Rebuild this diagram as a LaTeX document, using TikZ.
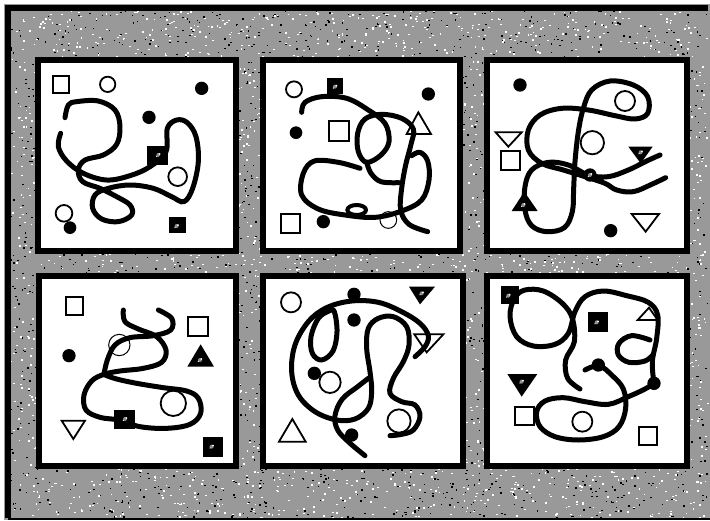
\documentclass[tikz,border=0pt]{standalone}
\newcommand\mySpeck[2]{\fill[black!45] (#1,#2) circle[radius=6];\fill[white] ({#1+4},{#2-3}) circle[radius=3];\fill[white] ({#1-5},{#2+4}) circle[radius=2];}
\begin{document}
\begin{tikzpicture}[x=1pt,y=-1pt,
  curve/.style={line width=5pt, line cap=round, line join=round},
  opn/.style={draw=black, line width=1.8pt, fill=white},
  panelbox/.style={draw=black, line width=6pt, fill=white},
  zoomed/.style={scale=1/3}]
\useasboundingbox (0,0) rectangle (710,520);
\fill[white] (0,0) rectangle (710,520);
\fill[black!40] (4,4) rectangle (710,520);
\pgfmathsetseed{7}
\foreach \i in {1,...,3000}{\pgfmathsetmacro\ax{5+rnd*702}\pgfmathsetmacro\ay{5+rnd*512}\fill[black] (\ax,\ay) rectangle ++(1.6,1.3);}
\foreach \i in {1,...,4000}{\pgfmathsetmacro\ax{5+rnd*702}\pgfmathsetmacro\ay{5+rnd*512}\fill[white] (\ax,\ay) rectangle ++(1.8,1.4);}
\draw[line width=6pt] (708,7.5) -- (8,7.5) -- (8,518);
\draw[line width=2pt] (8,518.5) -- (710,518.5);
% panels
\draw[panelbox] (38,60) rectangle (236,251);
\draw[panelbox] (263,60) rectangle (460,251);
\draw[panelbox] (487,60) rectangle (687,251);
\draw[panelbox] (39,276) rectangle (236,466);
\draw[panelbox] (263,276) rectangle (463,466);
\draw[panelbox] (487,276) rectangle (687,466);
% panel 1
\begin{scope}[shift={(30,55)},zoomed]
\draw[opn] (68,62) rectangle (118,115);
\draw[opn] (233,88) circle[radius=23];
\fill (515,100) circle[radius=20];
\fill (357,187) circle[radius=20];
\fill (352,272) rectangle (415,330); \mySpeck{385}{300}
\draw[opn] (443,365) circle[radius=28];
\draw[opn] (102,475) circle[radius=25];
\fill (120,518) circle[radius=19];
\fill (417,487) rectangle (467,535); \mySpeck{440}{513}
\draw[curve] plot[smooth, tension=0.6] coordinates {(105,188) (115,150) (140,140) (205,138) (255,165) (270,215) (260,268) (220,300) (165,315) (145,345) (158,380) (210,400) (260,425) (300,450) (305,480) (265,500) (215,492) (188,460) (195,420) (235,400) (300,390) (370,400) (425,425) (462,440) (488,400) (505,320) (498,245) (472,203) (440,195) (412,220) (408,290) (360,335) (300,362) (230,375) (160,355) (110,318) (85,275) (92,235)};
\end{scope}
% panel 2
\begin{scope}[shift={(255,55)},zoomed]
\draw[opn] (117,103) circle[radius=24];
\fill (217,68) rectangle (265,118); \mySpeck{240}{95}
\fill (520,117) circle[radius=20];
\fill (123,233) circle[radius=19];
\draw[opn] (222,198) rectangle (282,258);
\draw[opn] (490,172) -- (455,237) -- (528,237) -- cycle;
\draw[opn] (78,478) rectangle (135,535);
\fill (205,500) circle[radius=20];
\draw[opn, line width=1pt] (400,495) circle[radius=25];
\draw[curve] plot[smooth, tension=0.6] coordinates {(140,172) (150,142) (200,125) (275,130) (340,165) (390,205) (402,260) (378,300) (335,322) (310,290) (308,235) (330,192) (380,178) (440,190) (475,222) (468,268) (452,330) (440,400) (437,465) (462,508) (518,530)};
\draw[curve] plot[smooth, tension=0.6] coordinates {(315,340) (250,322) (178,318) (145,355) (140,420) (190,462) (270,480) (360,487) (440,468) (500,435) (522,375) (518,318) (495,292) (470,302)};
\draw[curve] plot[smooth, tension=0.6] coordinates {(335,322) (348,355) (378,380) (432,383)};
\draw[curve, line width=4pt] (305,465) ellipse[x radius=28, y radius=15];
\end{scope}
% panel 3
\begin{scope}[shift={(475,55)},zoomed]
\fill (135,90) circle[radius=20];
\draw[opn] (450,138) circle[radius=30];
\draw[opn] (62,232) -- (140,232) -- (100,275) -- cycle;
\draw[opn] (77,287) rectangle (135,345);
\draw[opn] (352,263) circle[radius=35];
\fill (460,275) -- (533,275) -- (497,325) -- cycle; \mySpeck{497}{292}
\draw[curve] plot[smooth, tension=0.6] coordinates {(555,300) (515,318) (460,345) (400,365) (340,360) (280,330) (220,322) (170,345) (150,395) (150,465) (170,512) (215,530) (268,518) (292,470) (296,400) (300,320) (310,230) (325,160) (350,105) (405,78) (475,90) (518,125) (518,175) (480,192) (420,182) (340,165) (260,160) (195,180) (160,225) (160,285) (200,325) (265,345) (330,365) (390,385) (425,405) (475,410) (530,388) (572,368)};
\fill (345,360) circle[radius=20]; \mySpeck{345}{360}
\fill (148,410) -- (110,468) -- (188,468) -- cycle; \mySpeck{145}{450}
\draw[opn] (470,477) -- (552,477) -- (512,530) -- cycle;
\fill (407,527) circle[radius=20];
\end{scope}
% panel 4
\begin{scope}[shift={(30,265)},zoomed]
\draw[opn] (107,97) rectangle (160,150);
\draw[opn] (475,155) rectangle (533,213);
\fill (117,272) circle[radius=20];
\fill (512,238) -- (472,305) -- (552,305) -- cycle; \mySpeck{510}{285}
\draw[opn, line width=1pt] (268,240) circle[radius=32];
\draw[opn] (430,415) circle[radius=38];
\draw[opn] (95,467) -- (165,467) -- (130,522) -- cycle;
\fill (518,517) rectangle (578,575); \mySpeck{545}{545}
\draw[curve] plot[smooth, tension=0.6] coordinates {(280,135) (285,170) (325,192) (380,215) (408,255) (395,292) (340,310) (270,318) (222,328) (185,348) (162,390) (168,435) (210,457) (265,465) (330,485) (410,490) (480,478) (512,445) (505,400) (470,378) (400,368) (320,355) (260,342) (225,330)};
\draw[curve] plot[smooth, tension=0.6] coordinates {(385,135) (425,160) (422,195) (370,212) (300,218) (255,240) (232,285) (222,328)};
\fill (253,435) rectangle (315,492); \mySpeck{285}{462}
\end{scope}
% panel 5
\begin{scope}[shift={(255,265)},zoomed]
\draw[opn] (108,112) circle[radius=30];
\fill (462,65) -- (540,65) -- (495,118) -- cycle; \mySpeck{500}{85}
\draw[opn] (478,208) -- (565,208) -- (515,262) -- cycle;
\draw[opn] (225,352) circle[radius=32];
\draw[opn] (112,462) -- (72,530) -- (152,530) -- cycle;
\draw[opn] (432,468) circle[radius=35];
\draw[curve] plot[smooth, tension=0.6] coordinates {(480,275) (510,245) (520,212) (495,175) (440,140) (370,112) (290,108) (215,128) (160,170) (120,240) (110,320) (130,390) (180,440) (245,465) (300,462) (340,430) (350,380) (345,320) (335,250) (340,190) (370,160) (415,155) (455,185) (462,240) (445,290) (415,340) (405,385) (440,410) (480,420) (495,455) (475,495) (440,508) (405,512)};
\draw[curve] plot[smooth cycle, tension=0.6] coordinates {(238,140) (246,200) (234,258) (200,285) (172,265) (168,215) (190,160) (222,138)};
\draw[curve] plot[smooth, tension=0.6] coordinates {(330,572) (282,532) (248,495) (240,452) (262,402) (308,365) (340,340)};
\fill (297,88) circle[radius=20];
\fill (297,165) circle[radius=20];
\fill (178,325) circle[radius=20];
\fill (290,510) circle[radius=20];
\end{scope}
% panel 6
\begin{scope}[shift={(475,265)},zoomed]
\draw[opn] (522,128) -- (488,165) -- (548,165) -- cycle;
\draw[opn] (120,425) rectangle (178,480);
\draw[opn] (322,470) circle[radius=30];
\draw[opn] (493,485) rectangle (545,540);
\draw[curve] plot[smooth, tension=0.6] coordinates {(315,372) (278,340) (272,285) (298,230) (292,160) (262,115) (205,78) (150,75) (118,100) (105,155) (125,215) (175,243) (240,238) (280,205) (300,140) (330,95) (385,78) (455,92) (520,112) (548,150) (545,220) (532,290) (537,355)};
\draw[curve] plot[smooth, tension=0.6] coordinates {(330,315) (372,302) (412,332) (445,372) (452,430) (432,485) (385,515) (310,525) (240,515) (195,485) (185,440) (210,408) (265,398) (330,410) (400,418) (460,395) (510,372) (537,355)};
\draw[curve] plot[smooth, tension=0.6] coordinates {(525,225) (470,212) (432,235) (430,270) (462,292) (510,288) (535,268)};
\fill (77,62) rectangle (133,118); \mySpeck{100}{92}
\fill (340,142) rectangle (398,200); \mySpeck{365}{172}
\fill (370,300) circle[radius=20];
\fill (537,355) circle[radius=20];
\fill (97,327) -- (187,327) -- (140,395) -- cycle; \mySpeck{140}{350}
\end{scope}
\end{tikzpicture}
\end{document}
